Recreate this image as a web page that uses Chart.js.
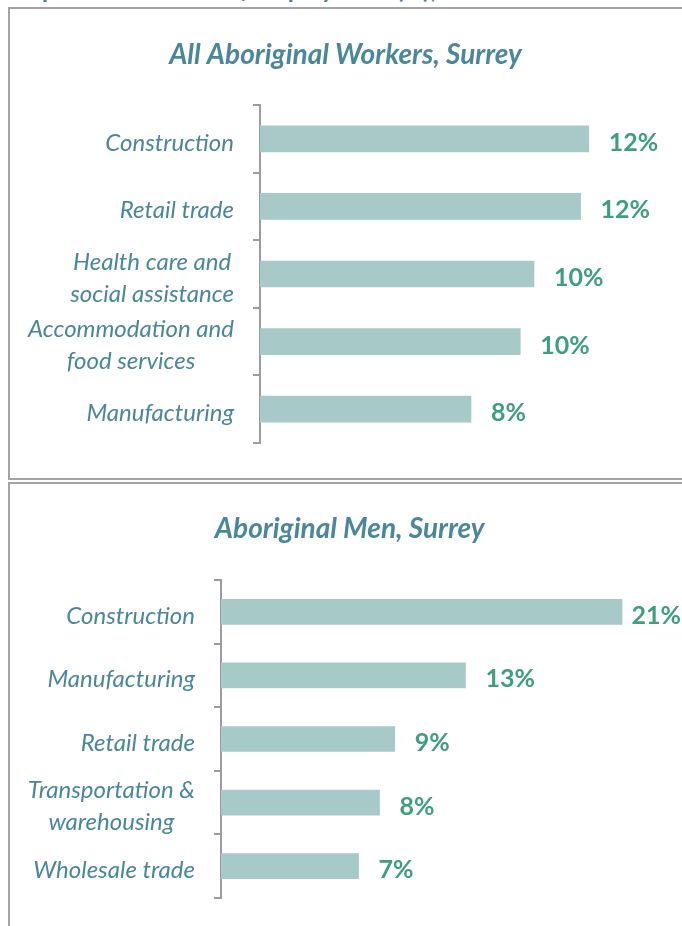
<!DOCTYPE html>
<html>
<head>
<meta charset="utf-8">
<script src="https://cdn.jsdelivr.net/npm/chart.js@4/dist/chart.umd.min.js"></script>
<style>
  body { margin: 0; width: 682px; height: 926px; overflow: hidden; background: #fff; position: relative; }
  .heading { position: absolute; left: 18px; top: -28px; font: bold italic 26px Lato, sans-serif; color: #4a879a; white-space: nowrap; }
  .panel { position: absolute; left: 8px; width: 700px; border: 2px solid #a3a3a3; }
  #panel1 { top: 7px; height: 469px; }
  #panel2 { top: 482px; height: 500px; }
  canvas { position: absolute; left: 10px; }
  #allChart { top: 9px; }
  #menChart { top: 484px; }
</style>
</head>
<body>
<div class="heading">Top Five Industries of Employment (%), 2016</div>
<div class="panel" id="panel1"></div>
<div class="panel" id="panel2"></div>
<canvas id="allChart" width="676" height="470"></canvas>
<canvas id="menChart" width="676" height="460"></canvas>
<script>
const allTitle = "All Aboriginal Workers, Surrey";
const allLabels = ["Construction", "Retail trade", ["Health care and", "social assistance"], ["Accommodation and", "food services"], "Manufacturing"];
const allValues = [12.0, 11.7, 10.0, 9.5, 7.7];

const menTitle = "Aboriginal Men, Surrey";
const menLabels = ["Construction", "Manufacturing", "Retail trade", ["Transportation &", "warehousing"], "Wholesale trade"];
const menValues = [21.0, 12.8, 9.1, 8.3, 7.2];

const textColor = "#4a879a";
const valueColor = "#3f9e7c";
const barColor = "#a7c9c7";
const axisColor = "#9c9c9c";

// category names: right edge of each block kept off the axis, lines centred inside the block
const sideLabels = {
  id: "sideLabels",
  afterDraw(chart) {
    const ctx = chart.ctx;
    const y = chart.scales.y;
    ctx.save();
    ctx.font = "italic 24px Lato";
    ctx.fillStyle = textColor;
    ctx.textAlign = "center";
    ctx.textBaseline = "middle";
    chart.data.labels.forEach((lab, i) => {
      const lines = [].concat(lab);
      const w = Math.max(...lines.map(l => ctx.measureText(l).width));
      const cx = y.right - 26 - w / 2;
      const cy = y.getPixelForTick(i) + 4;
      lines.forEach((l, j) => {
        ctx.fillText(l, cx, cy + (j - (lines.length - 1) / 2) * 32);
      });
    });
    ctx.restore();
  }
};

// percentage next to each bar
const valueLabels = {
  id: "valueLabels",
  afterDatasetsDraw(chart) {
    const ctx = chart.ctx;
    const values = chart.data.datasets[0].data;
    ctx.save();
    ctx.font = "bold 25px Lato";
    ctx.fillStyle = valueColor;
    ctx.textAlign = "left";
    ctx.textBaseline = "middle";
    chart.getDatasetMeta(0).data.forEach((bar, i) => {
      const txt = Math.round(values[i]) + "%";
      const w = ctx.measureText(txt).width;
      const x = Math.min(bar.x + 20, chart.width - w - 5);
      ctx.fillText(txt, x, bar.y + 4);
    });
    ctx.restore();
  }
};

function buildChart(canvasId, title, labels, values, opts) {
  const padLeft = 10;
  return new Chart(document.getElementById(canvasId), {
    type: "bar",
    data: {
      labels: labels,
      datasets: [{
        data: values,
        backgroundColor: barColor,
        barThickness: opts.barThickness
      }]
    },
    options: {
      indexAxis: "y",
      responsive: false,
      animation: false,
      layout: { padding: { top: 0, right: opts.padRight, bottom: opts.padBottom, left: padLeft } },
      plugins: {
        legend: { display: false },
        tooltip: { enabled: false },
        title: {
          display: true,
          text: title,
          color: textColor,
          font: { family: "Lato", size: 28, weight: "bold", style: "italic", lineHeight: 1.2 },
          padding: { top: opts.titleTop, bottom: opts.titleBottom }
        }
      },
      scales: {
        x: { display: false, min: 0, max: opts.xMax },
        y: {
          grid: { drawOnChartArea: false, drawTicks: true, tickLength: 7, color: axisColor, lineWidth: 2, offset: true },
          border: { color: axisColor, width: 2 },
          ticks: { display: false },
          afterFit(scale) { scale.width = opts.axisLeft - padLeft; }
        }
      }
    },
    plugins: [sideLabels, valueLabels]
  });
}

buildChart("allChart", allTitle, allLabels, allValues, {
  barThickness: 26, padRight: 15, padBottom: 36, titleTop: 29.2, titleBottom: 33.2, xMax: 15, axisLeft: 250
});
buildChart("menChart", menTitle, menLabels, menValues, {
  barThickness: 25, padRight: 6.6, padBottom: 46, titleTop: 28.2, titleBottom: 34.2, xMax: 24, axisLeft: 211
});
</script>
</body>
</html>
